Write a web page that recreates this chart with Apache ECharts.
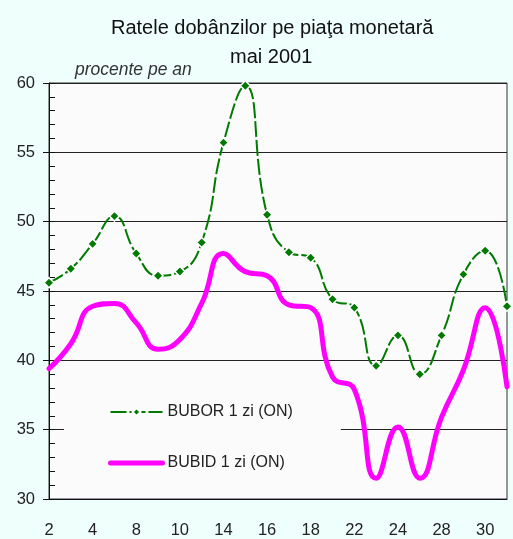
<!DOCTYPE html>
<html>
<head>
<meta charset="utf-8">
<script src="https://cdn.jsdelivr.net/npm/echarts@6/dist/echarts.min.js"></script>
<style>
html,body{margin:0;padding:0;background:#effffb;}
#c{width:513px;height:539px;}
</style>
</head>
<body>
<div id="c"></div>
<script>
var days = ['2','3','4','7','8','9','10','11','14','15','16','17','18','21','22','23','24','25','28','29','30','31'];
var bubor = [45.6,46.6,48.4,50.4,47.7,46.1,46.4,48.5,55.7,59.8,50.5,47.8,47.4,44.4,43.8,39.6,41.8,39.0,41.8,46.2,47.9,43.9];
var bubid = [39.4,41.2,43.9,44.1,42.7,40.8,41.5,44.1,47.7,46.4,46.1,44.0,43.8,38.8,37.9,31.5,35.2,31.5,35.9,39.3,43.8,38.1];
var titleText = 'Ratele dobânzilor pe piaţa monetară';
var subTitleText = 'mai 2001';
var unitText = 'procente pe an';
var seriesNames = ['BUBOR 1 zi (ON)', 'BUBID 1 zi (ON)'];

var font = 'Liberation Sans, Arial, sans-serif';
var chart = echarts.init(document.getElementById('c'));
chart.setOption({
  backgroundColor: '#effffb',
  animation: false,
  title: [
    {text: titleText, left: 106, top: 13, textStyle: {fontFamily: font, fontSize: 20, fontWeight: 'normal', color: '#111'}},
    {text: subTitleText, left: 225, top: 42, textStyle: {fontFamily: font, fontSize: 20, fontWeight: 'normal', color: '#111'}},
    {text: unitText, left: 70, top: 56, textStyle: {fontFamily: font, fontSize: 17.5, fontStyle: 'italic', fontWeight: 'normal', color: '#333'}}
  ],
  grid: {left: 49, right: 6, top: 83, bottom: 40, show: true, backgroundColor: '#fbfbfb', borderColor: '#333', borderWidth: 1},
  legend: {
    orient: 'vertical',
    left: 64, top: 390,
    padding: [14, 48, 16, 44],
    backgroundColor: '#fbfbfb',
    itemWidth: 52, itemHeight: 10, itemGap: 35,
    textStyle: {fontFamily: font, fontSize: 16, color: '#222'},
    data: [
      {name: seriesNames[0]},
      {name: seriesNames[1], itemStyle: {color: 'transparent', borderWidth: 0, opacity: 0}, lineStyle: {color: '#ff00ff', width: 5, cap: 'round'}}
    ]
  },
  xAxis: {
    type: 'category', data: days, boundaryGap: false,
    axisLine: {lineStyle: {color: '#111', width: 1}},
    axisTick: {show: false},
    axisLabel: {interval: 1, margin: 23, fontFamily: font, fontSize: 16.5, color: '#222'}
  },
  yAxis: [
    {type: 'value', min: 30, max: 60, interval: 5,
     axisLine: {show: true, lineStyle: {color: '#111'}},
     axisTick: {show: true, length: 6, lineStyle: {color: '#111'}},
     splitLine: {lineStyle: {color: '#222', width: 1}},
     axisLabel: {margin: 14, fontFamily: font, fontSize: 16.5, color: '#222'}},
    {type: 'value', min: 30, max: 60, interval: 1, position: 'left',
     axisLine: {show: false},
     axisTick: {show: true, inside: true, length: 6, lineStyle: {color: '#111'}},
     splitLine: {show: false},
     axisLabel: {show: false}}
  ],
  series: [
    {name: seriesNames[0], type: 'line', data: bubor, smooth: 0.5, yAxisIndex: 0,
     symbol: 'diamond', symbolSize: 10, showSymbol: true,
     lineStyle: {color: '#007a00', width: 2, type: [16, 3]},
     itemStyle: {color: '#007a00', borderColor: '#ffffff', borderWidth: 1.5},
     z: 3},
    {name: seriesNames[1], type: 'line', data: bubid, smooth: 0.5, yAxisIndex: 0,
     symbol: 'none', showSymbol: false,
     lineStyle: {color: '#ff00ff', width: 5, cap: 'round'},
     itemStyle: {color: '#ff00ff'},
     z: 2}
  ]
});
</script>
</body>
</html>
